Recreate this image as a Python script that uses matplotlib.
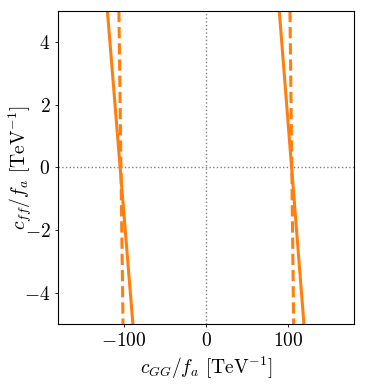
import numpy as np
import matplotlib
matplotlib.use('Agg')
import matplotlib.pyplot as plt

plt.rcParams['font.family'] = 'serif'
plt.rcParams['font.serif'] = ['cmr10']
plt.rcParams['mathtext.fontset'] = 'cm'
plt.rcParams['axes.formatter.use_mathtext'] = True

# c_ff/f_a endpoints of each contour
y_ends = [5, -5]

# solid contours (c_GG/f_a at y = 5 and y = -5)
solid_left = [-120, -89]
solid_right = [89, 119]

# dashed contours
dashed_left = [-106, -101]
dashed_right = [102, 106.5]

orange = '#ff7f0e'

fig = plt.figure(figsize=(3.87, 3.87), dpi=100)
ax = fig.add_axes([0.150, 0.163, 0.765, 0.809])

ax.axhline(0, color='grey', ls=':', lw=1)
ax.axvline(0, color='grey', ls=':', lw=1)

ax.plot(solid_left, y_ends, color=orange, lw=2.2)
ax.plot(solid_right, y_ends, color=orange, lw=2.2)
ax.plot(dashed_left, y_ends, color=orange, lw=2.2, ls='--')
ax.plot(dashed_right, y_ends, color=orange, lw=2.2, ls='--')

ax.set_xlim(-180, 180)
ax.set_ylim(-5, 5)
ax.set_xticks([-100, 0, 100])
ax.set_yticks([-4, -2, 0, 2, 4])
ax.tick_params(labelsize=14, length=2, width=0.6)

ax.set_xlabel(r'$c_{GG}/f_a$ [TeV$^{-1}$]', fontsize=14)
ax.set_ylabel(r'$c_{ff}/f_a$ [TeV$^{-1}$]', fontsize=14)
ax.yaxis.set_label_coords(-0.08, 0.5)

fig.savefig('out.png', dpi=100)
